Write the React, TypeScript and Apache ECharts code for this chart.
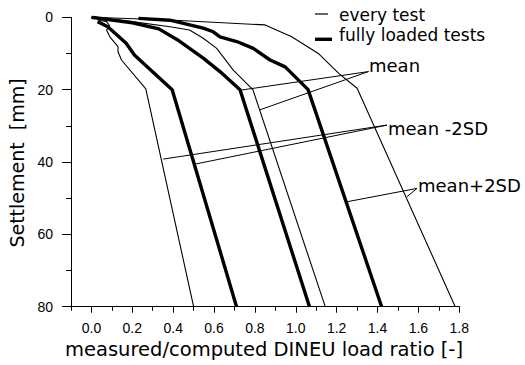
import React, { useEffect, useRef } from "react";
import * as echarts from "echarts";

// ---- axis ticks ----
const xMajorTicks = [0, 0.2, 0.4, 0.6, 0.8, 1.0, 1.2, 1.4, 1.6, 1.8];
const xMinorTicks = [-0.1, 0.1, 0.3, 0.5, 0.7, 0.9, 1.1, 1.3, 1.5, 1.7];
const yMin = 0;
const yMax = 80;
const yInterval = 20;

// ---- curves: [load ratio, settlement mm] ----
// every test
const everyMinus2SD = [
  [0.03, 0.7], [0.074, 1.2], [0.09, 2.4], [0.074, 3.5], [0.09, 5.4],
  [0.13, 8.1], [0.13, 9.5], [0.147, 11.8], [0.266, 19.8], [0.5, 80],
];
const everyMean = [
  [0, 0], [0.2, 1.2], [0.384, 2.6], [0.48, 3.5], [0.547, 5.8],
  [0.613, 8.6], [0.694, 14.6], [0.79, 20], [1.144, 80],
];
const everyPlus2SD = [
  [0, 0], [0.384, 0.75], [0.85, 2.1], [0.98, 5.4], [1.11, 10],
  [1.21, 15.5], [1.3, 19.6], [1.78, 80],
];
// fully loaded tests
const fullMinus2SD = [
  [0.03, 1.2], [0.08, 2.6], [0.17, 7.2], [0.21, 10.4], [0.395, 20], [0.71, 80],
];
const fullMean = [
  [0, 0], [0.2, 1.5], [0.33, 3.2], [0.42, 6.2], [0.547, 11.3],
  [0.629, 15], [0.727, 20], [1.067, 80],
];
const fullPlus2SD = [
  [0.23, 0.3], [0.384, 0.8], [0.547, 3.0], [0.596, 4.0], [0.629, 5.4],
  [0.711, 6.7], [0.792, 8.6], [0.874, 11.8], [0.948, 13.7], [1.06, 20], [1.42, 80],
];

// ---- leader lines for annotations ----
const meanLeader = [[0.735, 20.1], [1.356, 15.0], [0.823, 25.6]];
const minusLeader = [[0.351, 39.2], [1.446, 29.8], [0.506, 40.6]];
const plusLeader = [[1.25, 51.0], [1.593, 47.3], [1.544, 49.6]];

const labels = {
  legendThin: "every test",
  legendThick: "fully loaded tests",
  mean: "mean",
  minus: "mean -2SD",
  plus: "mean+2SD",
  xTitle: "measured/computed DINEU load ratio [-]",
  yTitle: "Settlement  [mm]",
};

const TXT = "DejaVu Sans";
const NUM = "Liberation Sans";

export default function App() {
  const ref = useRef<HTMLDivElement>(null);

  useEffect(() => {
    if (!ref.current) return;
    const chart = echarts.init(ref.current, undefined, { renderer: "svg" });

    const mkLine = (data: number[][], width: number) => ({
      type: "line",
      data,
      symbol: "none",
      smooth: false,
      silent: true,
      lineStyle: { color: "#000", width },
      z: 3,
    });

    chart.setOption({
      animation: false,
      backgroundColor: "#fff",
      grid: { left: 71, right: 65.7, top: 17.3, bottom: 58.3 },
      xAxis: [
        {
          type: "value",
          min: -0.1,
          max: 1.8,
          position: "bottom",
          axisLine: { show: true, onZero: false, lineStyle: { color: "#000", width: 1 } },
          axisTick: {
            show: true,
            length: 6,
            customValues: xMajorTicks,
            lineStyle: { color: "#000", width: 1 },
          },
          axisLabel: {
            show: true,
            customValues: xMajorTicks,
            formatter: (v: number) => v.toFixed(1),
            color: "#000",
            fontSize: 14,
            fontFamily: NUM,
            margin: 14,
          },
          splitLine: { show: false },
        },
        {
          type: "value",
          min: -0.1,
          max: 1.8,
          position: "bottom",
          axisLine: { show: false, onZero: false },
          axisTick: {
            show: true,
            length: 4,
            customValues: xMinorTicks,
            lineStyle: { color: "#000", width: 1 },
          },
          axisLabel: { show: false },
          splitLine: { show: false },
        },
      ],
      yAxis: {
        type: "value",
        inverse: true,
        min: yMin,
        max: yMax,
        interval: yInterval,
        axisLine: { show: true, onZero: false, lineStyle: { color: "#000", width: 1 } },
        axisTick: { show: true, length: 9, lineStyle: { color: "#000", width: 1 } },
        minorTick: { show: true, splitNumber: 2, length: 5, lineStyle: { color: "#000", width: 1 } },
        axisLabel: { color: "#000", fontSize: 14, fontFamily: NUM, margin: 18 },
        splitLine: { show: false },
        minorSplitLine: { show: false },
      },
      series: [
        mkLine(everyMinus2SD, 1.1),
        mkLine(everyMean, 1.1),
        mkLine(everyPlus2SD, 1.1),
        mkLine(fullMinus2SD, 3.4),
        mkLine(fullMean, 3.4),
        mkLine(fullPlus2SD, 3.4),
        mkLine(meanLeader, 1),
        mkLine(minusLeader, 1),
        mkLine(plusLeader, 1),
      ],
      graphic: [
        { type: "line", shape: { x1: 315, y1: 14, x2: 328, y2: 14 }, style: { stroke: "#000", lineWidth: 1.2 } },
        { type: "line", shape: { x1: 315, y1: 39.3, x2: 332, y2: 39.3 }, style: { stroke: "#000", lineWidth: 3.4 } },
        { type: "text", x: 339, y: 14.5, style: { text: labels.legendThin, font: `17px '${TXT}'`, fill: "#000", textVerticalAlign: "middle" } },
        { type: "text", x: 339, y: 34.5, style: { text: labels.legendThick, font: `17px '${TXT}'`, fill: "#000", textVerticalAlign: "middle" } },
        { type: "text", x: 369, y: 65.5, style: { text: labels.mean, font: `18px '${TXT}'`, fill: "#000", textVerticalAlign: "middle" } },
        { type: "text", x: 388, y: 128.5, style: { text: labels.minus, font: `18px '${TXT}'`, fill: "#000", textVerticalAlign: "middle" } },
        { type: "text", x: 418, y: 185.5, style: { text: labels.plus, font: `18px '${TXT}'`, fill: "#000", textVerticalAlign: "middle" } },
        { type: "text", x: 264, y: 349, style: { text: labels.xTitle, font: `19.5px '${TXT}'`, fill: "#000", textAlign: "center", textVerticalAlign: "middle" } },
        { type: "text", x: 17, y: 163, rotation: Math.PI / 2, style: { text: labels.yTitle, font: `19px '${TXT}'`, fill: "#000", textAlign: "center", textVerticalAlign: "middle" } },
      ],
    });

    return () => chart.dispose();
  }, []);

  return (
    <div
      ref={ref}
      style={{ position: "fixed", left: 0, top: 0, width: 525, height: 365, background: "#fff" }}
    />
  );
}
